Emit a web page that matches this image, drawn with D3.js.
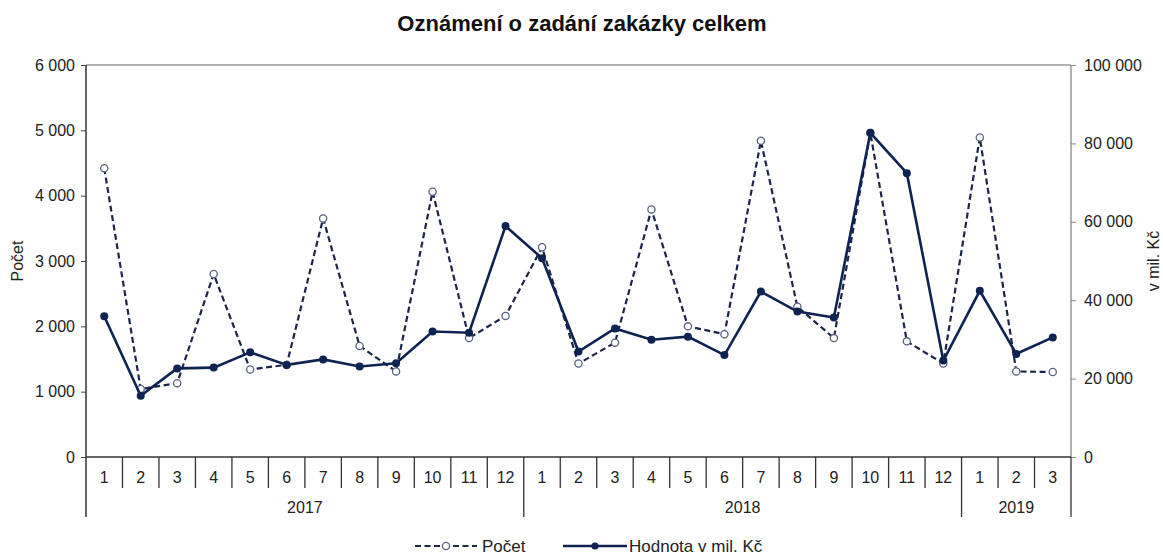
<!doctype html>
<html lang="cs">
<head>
<meta charset="utf-8">
<title>Oznámení o zadání zakázky celkem</title>
<style>
  body { margin: 0; background: #fff; }
  svg { font-family: "Liberation Sans", Arial, sans-serif; }
</style>
</head>
<body>
<svg></svg>
<script src="https://d3js.org/d3.v7.min.js"></script>
<script>
// data
let months = [1,2,3,4,5,6,7,8,9,10,11,12, 1,2,3,4,5,6,7,8,9,10,11,12, 1,2,3];
let years = [
  { label: "2017", count: 12 },
  { label: "2018", count: 12 },
  { label: "2019", count: 3 }
];
let pocet = [4420, 1040, 1130, 2800, 1340, 1410, 3650, 1700, 1310, 4060, 1820, 2160,
             3210, 1430, 1750, 3790, 2000, 1880, 4840, 2300, 1820, 4960, 1770, 1430,
             4890, 1310, 1300];
let hodnota = [35900, 15600, 22600, 22800, 26700, 23500, 24900, 23100, 23900, 32000, 31700, 58900,
               50700, 26900, 32800, 29900, 30700, 26000, 42200, 37100, 35600, 82700, 72400, 24600,
               42400, 26300, 30500];
let leftTicks = [0, 1000, 2000, 3000, 4000, 5000, 6000];
let rightTicks = [0, 20000, 40000, 60000, 80000, 100000];

let width = 1163, height = 558;
let margin = { left: 86, right: 92, top: 65, bottom: 101 };
let x0 = margin.left, x1 = width - margin.right;
let y0 = height - margin.bottom, y1 = margin.top;

let navy = "#0f2352";
let fs = 16;
let fmt = v => d3.format(",")(v).replace(/,/g, " ");

let svg = d3.select("svg")
    .attr("width", width)
    .attr("height", height);

let idx = d3.range(months.length);
let x = d3.scaleBand().domain(idx).range([x0, x1]);
let yL = d3.scaleLinear().domain([0, 6000]).range([y0, y1]);
let yR = d3.scaleLinear().domain([0, 100000]).range([y0, y1]);
let cx = i => x(i) + x.bandwidth() / 2;

// title
svg.append("text")
    .attr("x", 582).attr("y", 31)
    .attr("text-anchor", "middle")
    .attr("font-size", 22).attr("font-weight", "bold")
    .attr("fill", "#111")
    .text("Oznámení o zadání zakázky celkem");

// top border
svg.append("line")
    .attr("x1", x0).attr("x2", x1).attr("y1", y1).attr("y2", y1)
    .attr("stroke", "#999").attr("stroke-width", 1.3);

// left axis
let gL = svg.append("g").attr("transform", `translate(${x0},0)`)
    .call(d3.axisLeft(yL).tickValues(leftTicks).tickSize(5).tickPadding(6).tickFormat(fmt));
gL.select(".domain").remove();
gL.selectAll("line").attr("stroke", "#444");
gL.selectAll("text").attr("font-size", fs).attr("fill", "#222").attr("font-family", "Liberation Sans, Arial, sans-serif");

// right axis
let gR = svg.append("g").attr("transform", `translate(${x1},0)`)
    .call(d3.axisRight(yR).tickValues(rightTicks).tickSize(5).tickPadding(8).tickFormat(fmt));
gR.select(".domain").remove();
gR.selectAll("line").attr("stroke", "#888");
gR.selectAll("text").attr("font-size", fs).attr("fill", "#222").attr("font-family", "Liberation Sans, Arial, sans-serif");

svg.append("line")
    .attr("x1", x1).attr("x2", x1).attr("y1", y1).attr("y2", y0)
    .attr("stroke", "#888").attr("stroke-width", 1.3);

// bottom category axis with year groups
let monthRowBottom = y0 + 31;
let yearRowBottom = y0 + 60;
svg.append("line")
    .attr("x1", x0).attr("x2", x1).attr("y1", y0).attr("y2", y0)
    .attr("stroke", "#333").attr("stroke-width", 1.5);
svg.append("line")
    .attr("x1", x0).attr("x2", x0).attr("y1", y1).attr("y2", yearRowBottom)
    .attr("stroke", "#333").attr("stroke-width", 1.5);

let boundaries = [];
let acc = 0;
years.forEach(yr => { acc += yr.count; boundaries.push(acc); });

svg.append("g").selectAll("line")
    .data(d3.range(1, months.length + 1))
    .enter().append("line")
    .attr("x1", i => i < months.length ? x(i) : x1)
    .attr("x2", i => i < months.length ? x(i) : x1)
    .attr("y1", y0)
    .attr("y2", i => boundaries.includes(i) ? yearRowBottom : monthRowBottom)
    .attr("stroke", "#333").attr("stroke-width", 1.3);

svg.append("g").selectAll("text")
    .data(idx)
    .enter().append("text")
    .attr("x", cx).attr("y", y0 + 26)
    .attr("text-anchor", "middle")
    .attr("font-size", fs).attr("fill", "#222")
    .text(i => months[i]);

let start = 0;
years.forEach(yr => {
    let a = x(start), b = start + yr.count < months.length ? x(start + yr.count) : x1;
    svg.append("text")
        .attr("x", (a + b) / 2).attr("y", y0 + 56)
        .attr("text-anchor", "middle")
        .attr("font-size", fs).attr("fill", "#222")
        .text(yr.label);
    start += yr.count;
});

// axis titles
svg.append("text")
    .attr("transform", `translate(23,${(y0 + y1) / 2}) rotate(-90)`)
    .attr("text-anchor", "middle")
    .attr("font-size", fs).attr("fill", "#222")
    .text("Počet");
svg.append("text")
    .attr("transform", `translate(1159,${(y0 + y1) / 2}) rotate(-90)`)
    .attr("text-anchor", "middle")
    .attr("font-size", fs).attr("fill", "#222")
    .text("v mil. Kč");

// Počet – dashed line with open markers
let lineL = d3.line().x((d, i) => cx(i)).y(d => yL(d));
svg.append("path")
    .datum(pocet)
    .attr("d", lineL)
    .attr("fill", "none")
    .attr("stroke", "#1b2547").attr("stroke-width", 2.2)
    .attr("stroke-dasharray", "6,3.5");
svg.append("g").selectAll("circle")
    .data(pocet)
    .enter().append("circle")
    .attr("cx", (d, i) => cx(i)).attr("cy", d => yL(d))
    .attr("r", 3.6)
    .attr("fill", "#fff").attr("stroke", "#5a6380").attr("stroke-width", 1.3);

// Hodnota – solid line with filled markers
let lineR = d3.line().x((d, i) => cx(i)).y(d => yR(d));
svg.append("path")
    .datum(hodnota)
    .attr("d", lineR)
    .attr("fill", "none")
    .attr("stroke", navy).attr("stroke-width", 2.6);
svg.append("g").selectAll("circle")
    .data(hodnota)
    .enter().append("circle")
    .attr("cx", (d, i) => cx(i)).attr("cy", d => yR(d))
    .attr("r", 4)
    .attr("fill", navy);

// legend
let ly = 546;
let leg = svg.append("g");
leg.append("line")
    .attr("x1", 415).attr("x2", 477).attr("y1", ly).attr("y2", ly)
    .attr("stroke", "#1b2547").attr("stroke-width", 2.2).attr("stroke-dasharray", "6,3.5");
leg.append("circle")
    .attr("cx", 446).attr("cy", ly).attr("r", 3.6)
    .attr("fill", "#fff").attr("stroke", "#5a6380").attr("stroke-width", 1.3);
leg.append("text")
    .attr("x", 482).attr("y", ly + 6)
    .attr("font-size", 17).attr("fill", "#222").text("Počet");
leg.append("line")
    .attr("x1", 563).attr("x2", 627).attr("y1", ly).attr("y2", ly)
    .attr("stroke", navy).attr("stroke-width", 2.6);
leg.append("circle")
    .attr("cx", 595).attr("cy", ly).attr("r", 3.6).attr("fill", navy);
leg.append("text")
    .attr("x", 629).attr("y", ly + 6)
    .attr("font-size", 17).attr("fill", "#222").text("Hodnota v mil. Kč");
</script>
</body>
</html>
